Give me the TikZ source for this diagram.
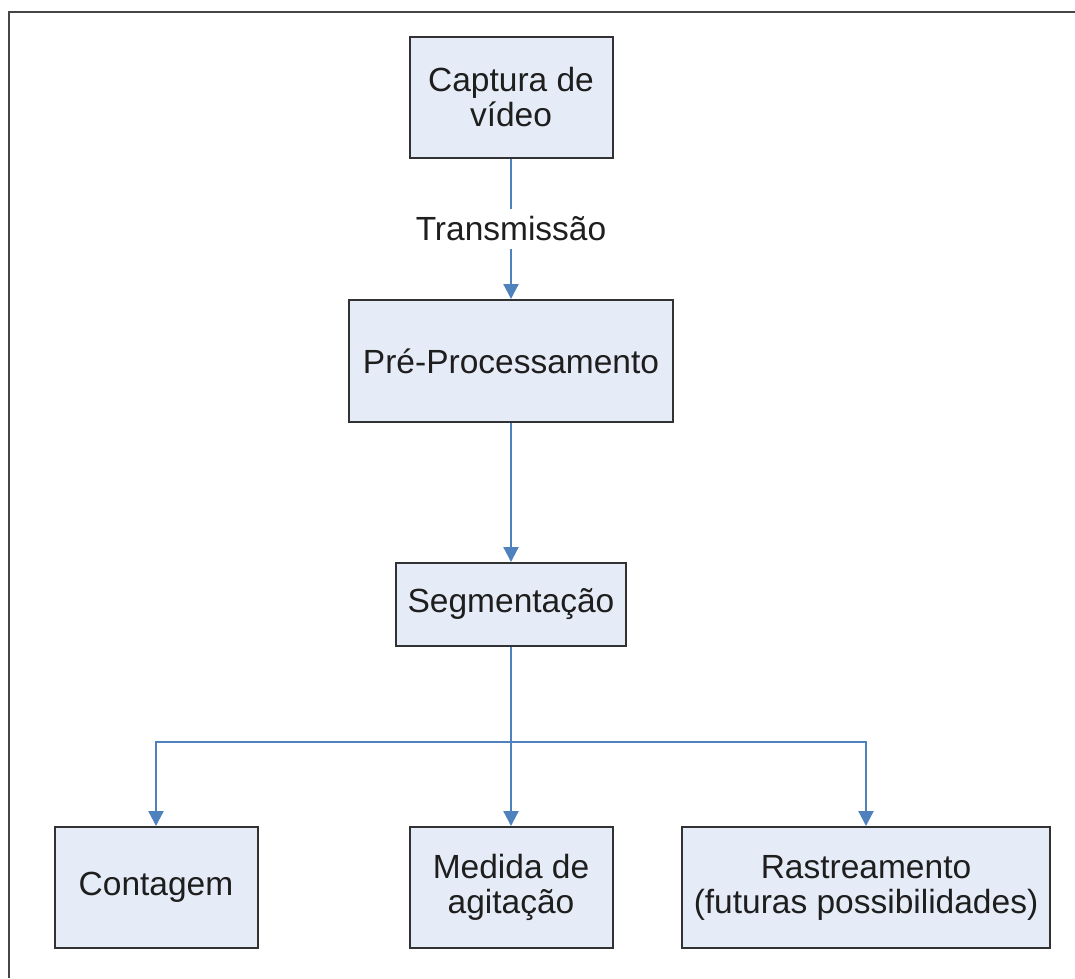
\documentclass[tikz,border=0pt]{standalone}
\usepackage{fontspec}
\setmainfont{Liberation Sans}
\usetikzlibrary{arrows.meta,calc}
\definecolor{boxfill}{RGB}{230,236,247}
\definecolor{boxline}{RGB}{50,50,50}
\definecolor{arrblue}{RGB}{79,129,189}
\definecolor{txt}{RGB}{30,30,30}
\definecolor{frameline}{RGB}{70,70,70}
\begin{document}
\begin{tikzpicture}[x=1pt,y=-1pt,
  stage/.style={draw=boxline,fill=boxfill,line width=2pt,inner sep=0pt,
    align=center,text=txt,font=\fontsize{33.5}{35}\selectfont},
  flow/.style={draw=arrblue,line width=2.2pt,-{Triangle[width=15pt,length=15pt]}},
  lbl/.style={fill=white,text=txt,inner xsep=4pt,inner ysep=8pt,font=\fontsize{33.5}{35}\selectfont}]
\useasboundingbox (0,0) rectangle (1075,978);
\draw[frameline,line width=2.5pt] (9,978) -- (9,12) -- (1075,12);
\node[stage,minimum width=203pt,minimum height=121pt] (cap) at (511,97.5) {Captura de\\vídeo};
\node[stage,minimum width=324pt,minimum height=122pt] (pre) at (511,361) {Pré-Processamento};
\node[stage,minimum width=230pt,minimum height=83pt] (seg) at (511,604.5) {Segmentação};
\node[stage,minimum width=203pt,minimum height=121pt] (cont) at (156,887.5) {Contagem};
\node[stage,minimum width=203pt,minimum height=121pt] (med) at (511,887.5) {Medida de\\agitação};
\node[stage,minimum width=368pt,minimum height=121pt] (ras) at (866,887.5) {Rastreamento\\(futuras possibilidades)};
\coordinate (j) at (511,742);
\draw[flow] (cap.south) -- node[lbl] (tr) {Transmissão} (pre.north);
\draw[flow] (pre.south) -- (seg.north);
\draw[flow] (seg.south) -- (med.north);
\draw[flow] (j) -| (cont.north);
\draw[flow] (j) -| (ras.north);
\end{tikzpicture}
\end{document}
